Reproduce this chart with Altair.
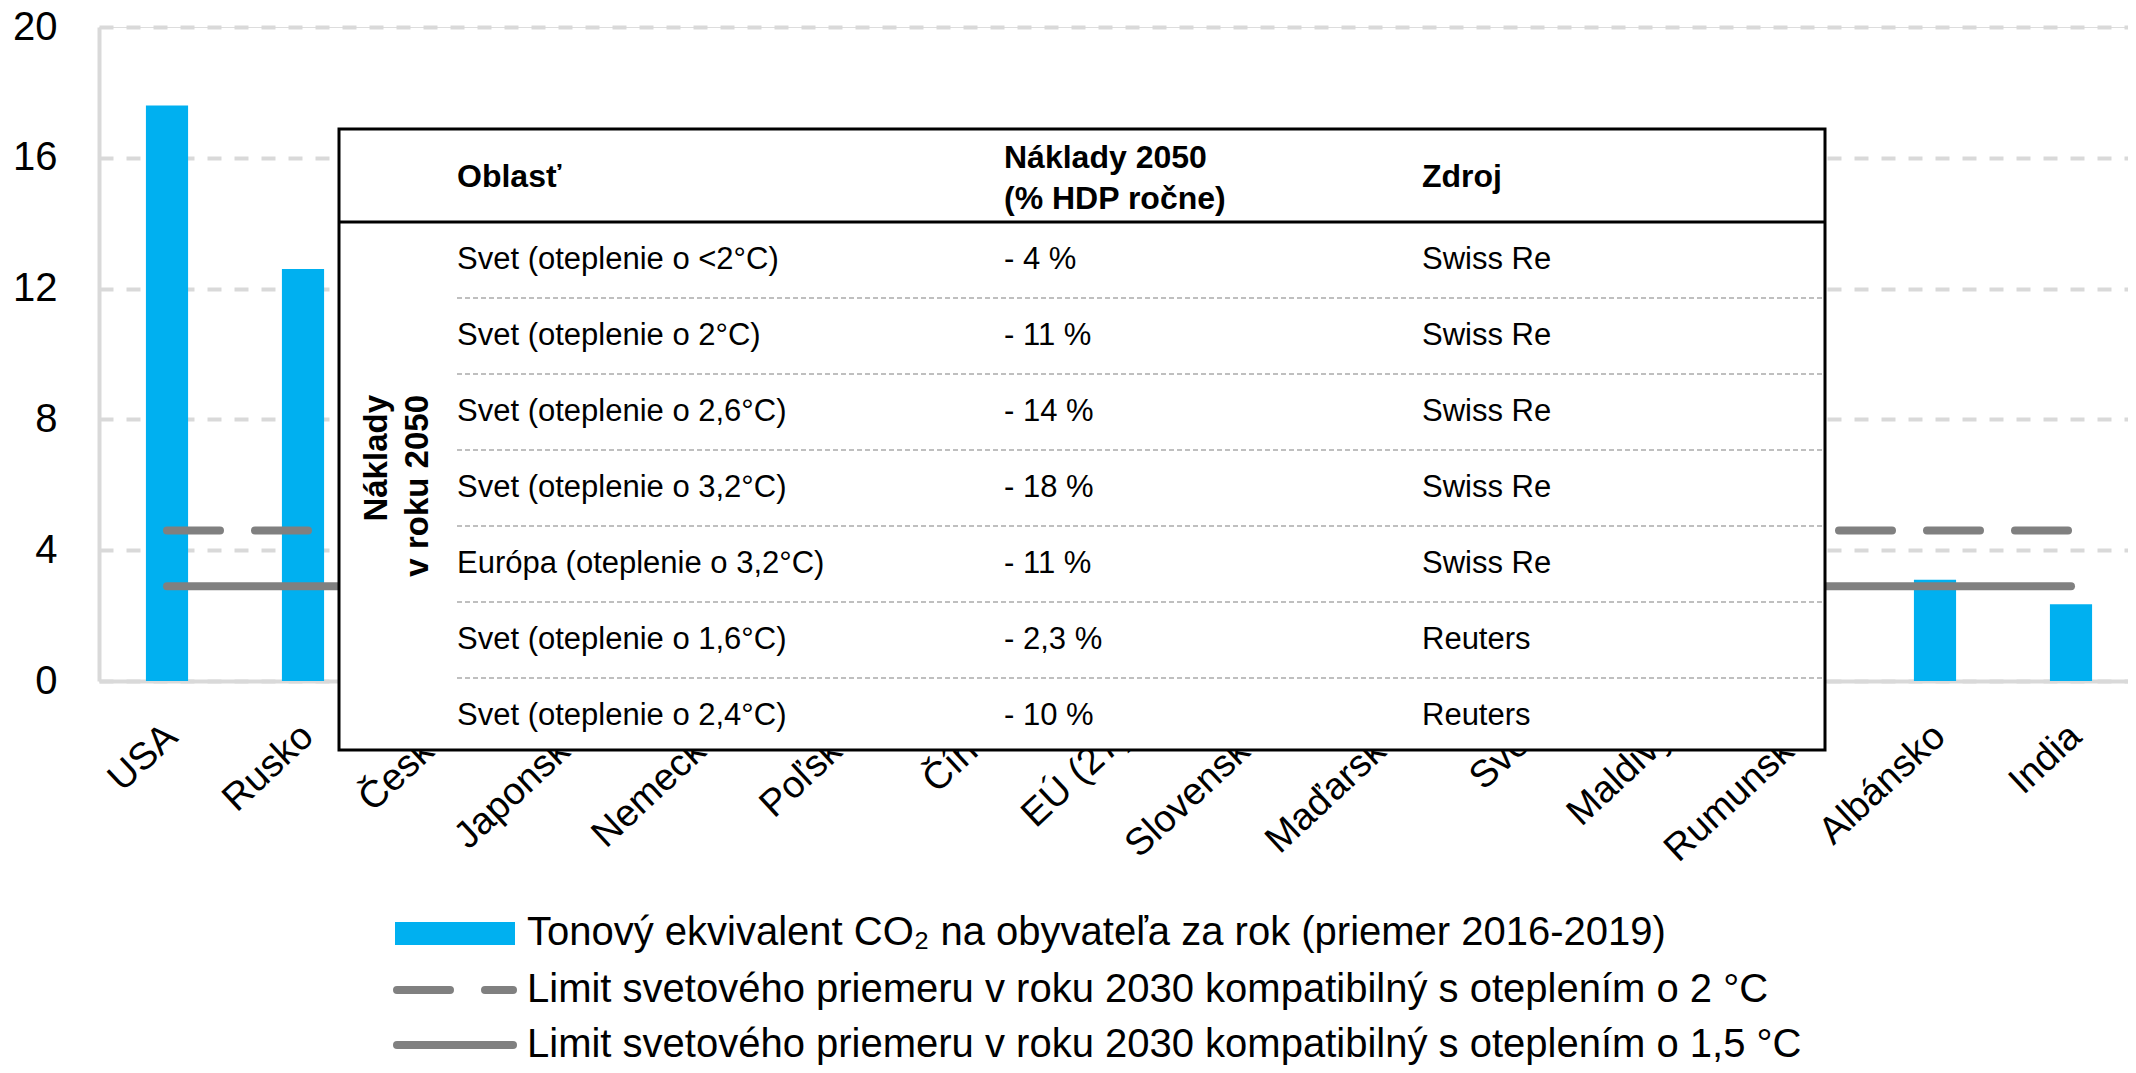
import altair as alt
import pandas as pd

# ---------------- data ----------------
countries = ["USA", "Rusko", "Česko", "Japonsko", "Nemecko", "Poľsko", "Čína", "EÚ (27)",
             "Slovensko", "Maďarsko", "Svet", "Maldivy", "Rumunsko", "Albánsko", "India"]
emissions = [17.6, 12.6, 12.0, 9.6, 9.4, 9.0, 8.5, 8.0, 7.6, 6.7, 6.4, 5.6, 5.2, 3.1, 2.35]
limit_2c = 4.6
limit_15c = 2.9

regions = ["Svet (oteplenie o <2°C)", "Svet (oteplenie o 2°C)", "Svet (oteplenie o 2,6°C)",
           "Svet (oteplenie o 3,2°C)", "Európa (oteplenie o 3,2°C)", "Svet (oteplenie o 1,6°C)",
           "Svet (oteplenie o 2,4°C)"]
costs = ["- 4 %", "- 11 %", "- 14 %", "- 18 %", "- 11 %", "- 2,3 %", "- 10 %"]
sources = ["Swiss Re", "Swiss Re", "Swiss Re", "Swiss Re", "Swiss Re", "Reuters", "Reuters"]
header_cols = ["Oblasť", "Náklady 2050\n(% HDP ročne)", "Zdroj"]
side_label = "Náklady\nv roku 2050"
legend_labels = [
    "Tonový ekvivalent CO₂  na obyvateľa za rok (priemer 2016-2019)",
    "Limit svetového priemeru v roku 2030 kompatibilný s oteplením o 2 °C",
    "Limit svetového priemeru v roku 2030 kompatibilný s oteplením o 1,5 °C",
]

FONT = "Liberation Sans, Arial, sans-serif"
W, H = 2029, 654
BLUE = "#00b0f0"
GREY = "#808080"
LIGHT = "#d9d9d9"

bars_df = pd.DataFrame({"country": countries, "value": emissions})
lines_df = pd.DataFrame({
    "country": [countries[0], countries[-1], countries[0], countries[-1]],
    "value": [limit_2c, limit_2c, limit_15c, limit_15c],
    "kind": ["2", "2", "15", "15"],
})
table_df = pd.DataFrame({"row": list(range(len(regions))), "region": regions,
                         "cost": costs, "source": sources})
sep_df = table_df.iloc[:-1]
one = pd.DataFrame({"a": [0]})

x_scale = alt.Scale(domain=countries, range=[0, 2040], paddingInner=0.69, paddingOuter=0.345)
x_enc = alt.X("country:N", sort=countries, title=None, scale=x_scale,
              axis=alt.Axis(labelAngle=-43, labelFontSize=38, labelFont=FONT, labelColor="#000",
                            ticks=False, domainColor=LIGHT, domainWidth=4, labelPadding=36,
                            labelOffset=-8, labelLimit=0, grid=False))
y_scale = alt.Scale(domain=[0, 20])

bars = alt.Chart(bars_df).mark_bar(color=BLUE).encode(
    x=x_enc,
    y=alt.Y("value:Q", scale=y_scale, title=None,
            axis=alt.Axis(values=[0, 4, 8, 12, 16, 20], labelFontSize=40, labelFont=FONT,
                          labelColor="#000", ticks=False, domainColor=LIGHT, domainWidth=4,
                          labelPadding=42, gridColor=LIGHT, gridWidth=4, gridDash=[14, 13])),
)

dashed = alt.Chart(lines_df[lines_df.kind == "2"]).mark_line(
    color=GREY, strokeWidth=8, strokeDash=[53, 35], strokeCap="round").encode(
    x=alt.X("country:N", sort=countries, scale=x_scale), y=alt.Y("value:Q", scale=y_scale))
solid = alt.Chart(lines_df[lines_df.kind == "15"]).mark_line(
    color=GREY, strokeWidth=8, strokeCap="round").encode(
    x=alt.X("country:N", sort=countries, scale=x_scale), y=alt.Y("value:Q", scale=y_scale))

base = alt.layer(bars, dashed, solid)

# ---------------- table overlay ----------------
TL, TR, TT, TB = 240, 1726, 102, 723
row_y = alt.Y("row:O", scale=alt.Scale(type="point", domain=list(range(len(regions))),
                                        range=[233, 689], padding=0), axis=None)

box = alt.Chart(one).mark_rect(fill="white", stroke="#000", strokeWidth=3).encode(
    x=alt.value(TL), x2=alt.value(TR), y=alt.value(TT), y2=alt.value(TB))
head_line = alt.Chart(one).mark_rule(color="#000", strokeWidth=3).encode(
    x=alt.value(TL), x2=alt.value(TR), y=alt.value(195))
seps = alt.Chart(sep_df).mark_rule(color="#bfbfbf", strokeWidth=2, strokeDash=[5, 3], yOffset=38).encode(
    x=alt.value(358), x2=alt.value(TR), y=row_y)

txt = dict(font=FONT, fontSize=31, color="#000", align="left", baseline="middle")
col_region = alt.Chart(table_df).mark_text(**txt).encode(x=alt.value(358), y=row_y, text="region:N")
col_cost = alt.Chart(table_df).mark_text(**txt).encode(x=alt.value(905), y=row_y, text="cost:N")
col_source = alt.Chart(table_df).mark_text(**txt).encode(x=alt.value(1323), y=row_y, text="source:N")

htxt = dict(font=FONT, fontSize=32, fontWeight="bold", color="#000", align="left",
            baseline="middle", lineBreak="\n", lineHeight=41)
h1 = alt.Chart(one).mark_text(**htxt).encode(x=alt.value(358), y=alt.value(150), text=alt.value(header_cols[0]))
h2 = alt.Chart(one).mark_text(**htxt).encode(x=alt.value(905), y=alt.value(131), text=alt.value(header_cols[1]))
h3 = alt.Chart(one).mark_text(**htxt).encode(x=alt.value(1323), y=alt.value(150), text=alt.value(header_cols[2]))

side = alt.Chart(one).mark_text(font=FONT, fontSize=33, fontWeight="bold", color="#000",
                                align="right", baseline="middle", angle=270,
                                lineBreak="\n", lineHeight=41).encode(
    x=alt.value(278), y=alt.value(368), text=alt.value(side_label))

# ---------------- legend ----------------
leg_rect = alt.Chart(one).mark_rect(color=BLUE).encode(
    x=alt.value(296), x2=alt.value(416), y=alt.value(895), y2=alt.value(918))
leg_dash = alt.Chart(one).mark_rule(color=GREY, strokeWidth=8, strokeDash=[53, 35], strokeCap="round").encode(
    x=alt.value(298), x2=alt.value(414), y=alt.value(963))
leg_solid = alt.Chart(one).mark_rule(color=GREY, strokeWidth=8, strokeCap="round").encode(
    x=alt.value(298), x2=alt.value(414), y=alt.value(1018))
ltxt = dict(font=FONT, fontSize=40, color="#000", align="left", baseline="middle")
leg_t1 = alt.Chart(one).mark_text(**ltxt).encode(x=alt.value(428), y=alt.value(906), text=alt.value(legend_labels[0]))
leg_t2 = alt.Chart(one).mark_text(**ltxt).encode(x=alt.value(428), y=alt.value(963), text=alt.value(legend_labels[1]))
leg_t3 = alt.Chart(one).mark_text(**ltxt).encode(x=alt.value(428), y=alt.value(1018), text=alt.value(legend_labels[2]))

chart = alt.layer(
    base, box, head_line, seps, col_region, col_cost, col_source, h1, h2, h3, side,
    leg_rect, leg_dash, leg_solid, leg_t1, leg_t2, leg_t3,
).resolve_scale(y="independent").properties(
    width=W, height=H,
    autosize=alt.AutoSizeParams(type="none"),
    padding={"left": 91, "top": 19, "right": 0, "bottom": 384},
).configure_view(stroke=None).configure(background="white")

chart.save("out.html", embed_options={"renderer": "svg", "actions": False})
